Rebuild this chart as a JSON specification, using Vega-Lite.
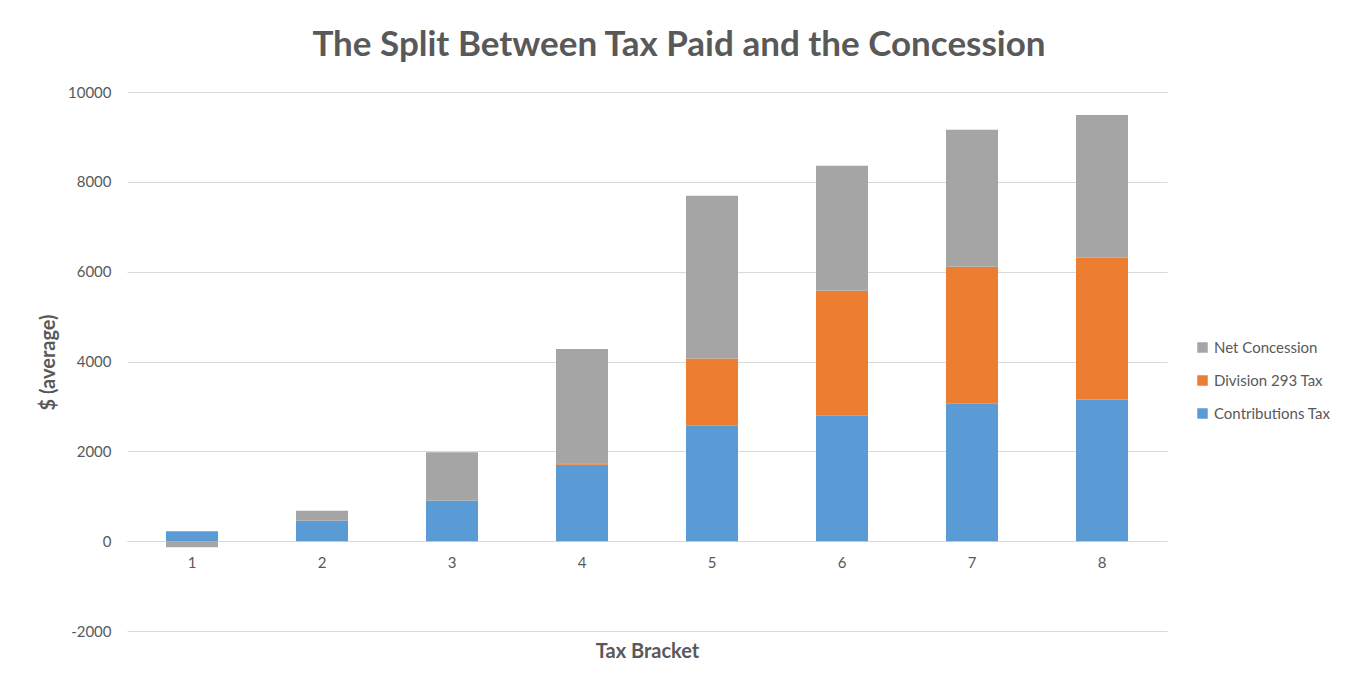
{
  "$schema": "https://vega.github.io/schema/vega-lite/v6.json",
  "autosize": {"type": "none"},
  "width": 1040,
  "height": 539,
  "padding": {"left": 127, "top": 92, "right": 190, "bottom": 52},
  "background": "#ffffff",
  "title": {
    "text": "The Split Between Tax Paid and the Concession",
    "font": "Lato",
    "fontSize": 35,
    "fontWeight": "bold",
    "color": "#595959",
    "anchor": "middle",
    "frame": "group",
    "dx": 32,
    "offset": 22
  },
  "data": {
    "values": [
      {"bracket": "1", "series": "Contributions Tax", "value": 214},
      {"bracket": "1", "series": "Division 293 Tax", "value": 10},
      {"bracket": "1", "series": "Net Concession", "value": -134},
      {"bracket": "2", "series": "Contributions Tax", "value": 452},
      {"bracket": "2", "series": "Division 293 Tax", "value": 0},
      {"bracket": "2", "series": "Net Concession", "value": 223},
      {"bracket": "3", "series": "Contributions Tax", "value": 898},
      {"bracket": "3", "series": "Division 293 Tax", "value": 0},
      {"bracket": "3", "series": "Net Concession", "value": 1084},
      {"bracket": "4", "series": "Contributions Tax", "value": 1699},
      {"bracket": "4", "series": "Division 293 Tax", "value": 38},
      {"bracket": "4", "series": "Net Concession", "value": 2539},
      {"bracket": "5", "series": "Contributions Tax", "value": 2568},
      {"bracket": "5", "series": "Division 293 Tax", "value": 1499},
      {"bracket": "5", "series": "Net Concession", "value": 3623},
      {"bracket": "6", "series": "Contributions Tax", "value": 2791},
      {"bracket": "6", "series": "Division 293 Tax", "value": 2784},
      {"bracket": "6", "series": "Net Concession", "value": 2784},
      {"bracket": "7", "series": "Contributions Tax", "value": 3058},
      {"bracket": "7", "series": "Division 293 Tax", "value": 3051},
      {"bracket": "7", "series": "Net Concession", "value": 3052},
      {"bracket": "8", "series": "Contributions Tax", "value": 3154},
      {"bracket": "8", "series": "Division 293 Tax", "value": 3156},
      {"bracket": "8", "series": "Net Concession", "value": 3177}
    ]
  },
  "mark": {"type": "bar"},
  "encoding": {
    "x": {
      "field": "bracket",
      "type": "ordinal",
      "scale": {"paddingInner": 0.6, "paddingOuter": 0.3},
      "axis": {
        "title": "Tax Bracket",
        "offset": -90,
        "labelAngle": 0,
        "ticks": false,
        "domainColor": "#D9D9D9",
        "labelPadding": 14,
        "titleY": 100,
        "titleBaseline": "top"
      }
    },
    "y": {
      "field": "value",
      "type": "quantitative",
      "aggregate": "sum",
      "stack": "zero",
      "scale": {"domain": [-2000, 10000], "nice": false},
      "axis": {
        "title": "$ (average)",
        "values": [-2000, 0, 2000, 4000, 6000, 8000, 10000],
        "labelExpr": "'' + datum.value",
        "ticks": false,
        "domain": false,
        "labelPadding": 16,
        "titleX": -79,
        "titleY": 270,
        "titleBaseline": "middle",
        "titleAnchor": "middle"
      }
    },
    "color": {
      "field": "series",
      "type": "nominal",
      "scale": {
        "domain": ["Net Concession", "Division 293 Tax", "Contributions Tax"],
        "range": ["#A5A5A5", "#ED7D31", "#5B9BD5"]
      },
      "legend": {
        "title": null,
        "orient": "none",
        "legendX": 1068,
        "legendY": 248,
        "symbolType": "square",
        "symbolSize": 110,
        "symbolStrokeWidth": 0,
        "rowPadding": 17,
        "labelOffset": 4,
        "labelFontSize": 15
      }
    },
    "order": {"field": "series", "sort": "ascending"}
  },
  "config": {
    "font": "Lato",
    "view": {"stroke": null},
    "axis": {
      "labelFont": "Lato",
      "labelFontSize": 15,
      "labelColor": "#595959",
      "titleFont": "Lato",
      "titleFontSize": 20,
      "titleFontWeight": "bold",
      "titleColor": "#595959",
      "gridColor": "#D9D9D9",
      "gridWidth": 1
    },
    "axisX": {"grid": false},
    "legend": {
      "labelFont": "Lato",
      "labelColor": "#595959"
    }
  }
}
